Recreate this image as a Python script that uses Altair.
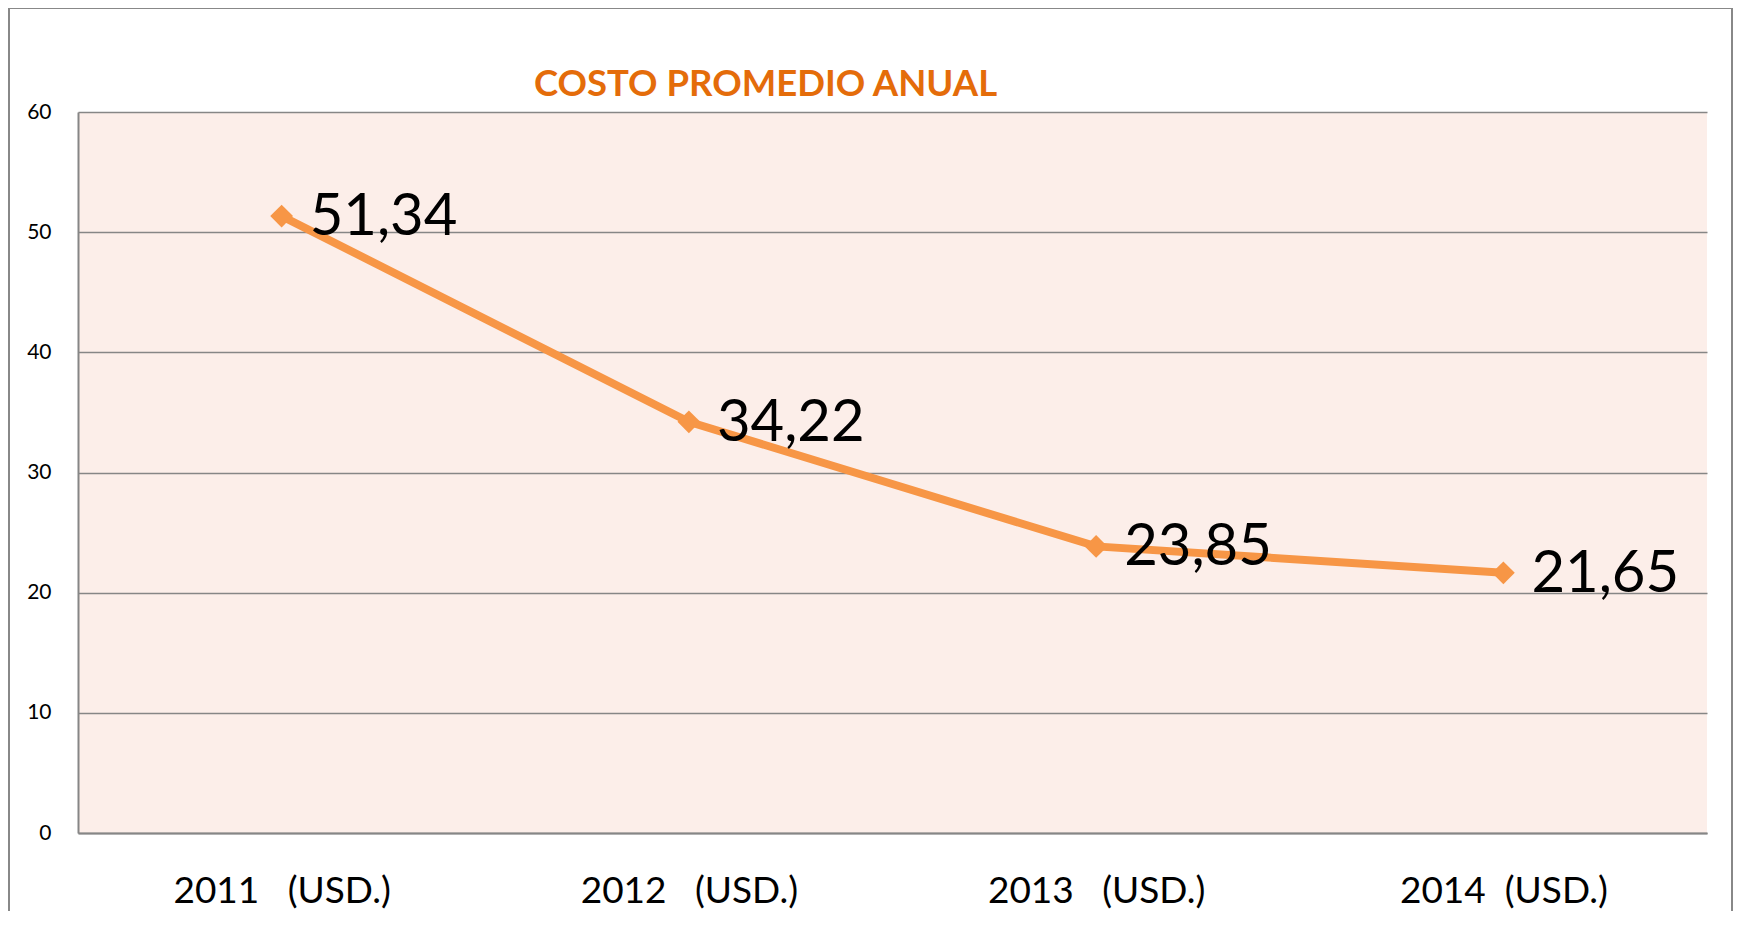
import altair as alt
import pandas as pd

years = ["2011\u00a0\u00a0\u00a0(USD.)", "2012\u00a0\u00a0\u00a0(USD.)", "2013\u00a0\u00a0\u00a0(USD.)", "2014\u00a0\u00a0(USD.)"]
values = [51.34, 34.22, 23.85, 21.65]
title_text = "COSTO PROMEDIO ANUAL"
y_ticks = [0, 10, 20, 30, 40, 50, 60]

df = pd.DataFrame({"year": years, "value": values})

FONT = "Lato"
W, H = 1629, 721

x_enc = alt.X("year:N", sort=years, title=None,
              scale=alt.Scale(paddingOuter=0.5, paddingInner=0),
              axis=alt.Axis(labelAngle=0, labelFontSize=37, labelFont=FONT, labelColor="#000000",
                            labelPadding=69, labelLimit=0, ticks=False, domainColor="#868686", domainWidth=2,
                            grid=False, labelBaseline="alphabetic"))
y_enc = alt.Y("value:Q", title=None,
              scale=alt.Scale(domain=[0, 60], nice=False),
              axis=alt.Axis(values=y_ticks, labelFontSize=21, labelFont=FONT, labelColor="#000000",
                            labelPadding=27, ticks=False, domainColor="#868686", domainWidth=2,
                            gridColor="#868686", gridWidth=1.5))

base = alt.Chart(df)

line = base.mark_line(color="#F79646", strokeWidth=8).encode(x=x_enc, y=y_enc)
pts = base.mark_point(shape="diamond", filled=True, size=520, color="#F79646", opacity=1).encode(x=x_enc, y=y_enc)
labels = base.transform_calculate(
    label="replace(format(datum.value, '.2f'), '.', ',')"
).mark_text(align="left", baseline="middle", dx=28, dy=2, fontSize=58, font=FONT, color="#000000").encode(
    x=x_enc, y=y_enc, text="label:N")

title = alt.Chart(pd.DataFrame({"t": [title_text]})).mark_text(
    align="left", baseline="alphabetic", fontSize=36.5, font=FONT, fontWeight="bold", color="#E46C0A"
).encode(x=alt.value(456), y=alt.value(-16), text="t:N")

frame = alt.Chart(pd.DataFrame({"f": [0]})).mark_rect(
    fill=None, stroke="#888888", strokeWidth=2
).encode(x=alt.value(-69), x2=alt.value(1654), y=alt.value(-104), y2=alt.value(840))

chart = alt.layer(frame, line, pts, labels, title).properties(
    width=W, height=H,
    padding={"left": 70, "top": 104, "right": 26, "bottom": 78},
    autosize=alt.AutoSizeParams(type="none"),
    background="#FFFFFF",
).configure_view(fill="#FCEEE9", stroke=None)

chart.save("out.html", embed_options={"renderer": "svg", "actions": False})
